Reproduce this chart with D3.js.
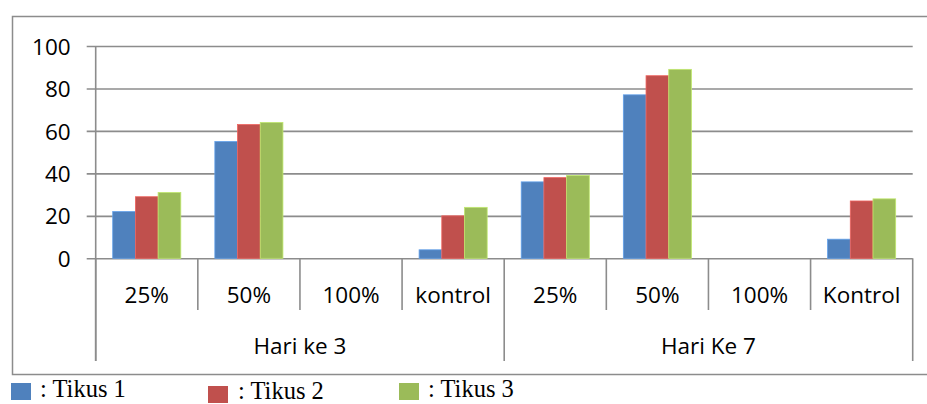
<!doctype html>
<html lang="id">
<head>
  <meta charset="utf-8">
  <title>Tikus</title>
  <script src="https://d3js.org/d3.v7.min.js"></script>
  <style>
    body { margin: 0; background: #fff; }
    svg text { font-family: "Open Sans", sans-serif; fill: #000; }
    .legend text { font-family: "Liberation Serif", "Times New Roman", serif; }
  </style>
</head>
<body>
  <div id="container"></div>
<script>
  // data
  const categories = ['25%', '50%', '100%', 'kontrol', '25%', '50%', '100%', 'Kontrol'];
  const groups = ['Hari ke 3', 'Hari Ke 7'];
  const seriesNames = [': Tikus 1', ': Tikus 2', ': Tikus 3'];
  const tikus1 = [22, 55, 0, 4, 36, 77, 0, 9];
  const tikus2 = [29, 63, 0, 20, 38, 86, 0, 27];
  const tikus3 = [31, 64, 0, 24, 39, 89, 0, 28];
  const yTicks = [0, 20, 40, 60, 80, 100];
  const colors = ['#4F81BD', '#C0504D', '#9BBB59'];

  const width = 927, height = 404;
  const plot = { left: 95.7, right: 912.7, top: 46, bottom: 258.3 };
  const gridColor = '#8c8c8c';

  const svg = d3.select('#container')
    .append('svg')
    .attr('width', width)
    .attr('height', height);

  // outer frame (right side runs off the picture)
  svg.append('rect')
    .attr('x', 12.5).attr('y', 16.5)
    .attr('width', 940).attr('height', 358)
    .attr('fill', 'none')
    .attr('stroke', gridColor)
    .attr('stroke-width', 1.5);

  const x = d3.scaleBand()
    .domain(d3.range(categories.length))
    .range([plot.left, plot.right]);

  const xs = d3.scaleBand()
    .domain(d3.range(seriesNames.length))
    .range([0, x.bandwidth()])
    .paddingInner(0)
    .paddingOuter(0.75);

  const y = d3.scaleLinear()
    .domain([0, 100])
    .range([plot.bottom, plot.top]);

  // gridlines + y labels
  const yAxis = svg.append('g')
    .attr('transform', `translate(${plot.left},0)`)
    .call(d3.axisLeft(y).tickValues(yTicks).tickSize(-(plot.right - plot.left)).tickPadding(0).tickSizeOuter(0));
  yAxis.select('.domain').remove();
  yAxis.selectAll('.tick line')
    .attr('x1', -9)
    .attr('stroke', gridColor)
    .attr('stroke-width', 1.6);
  yAxis.selectAll('.tick text')
    .attr('x', -25)
    .attr('dy', '0.36em')
    .style('font-size', '22.5px')
    .attr('fill', '#000');

  // bars
  const series = [tikus1, tikus2, tikus3];
  series.forEach((vals, s) => {
    svg.append('g')
      .selectAll('rect')
      .data(vals)
      .enter()
      .append('rect')
      .attr('x', (d, i) => x(i) + xs(s))
      .attr('y', d => y(d))
      .attr('width', xs.bandwidth())
      .attr('height', d => y(0) - y(d))
      .attr('fill', colors[s])
      .attr('stroke', d3.color(colors[s]).brighter(0.6))
      .attr('stroke-width', d => d > 0 ? 0.8 : 0);
  });

  // y axis line
  svg.append('line')
    .attr('x1', plot.left).attr('x2', plot.left)
    .attr('y1', plot.top).attr('y2', 361)
    .attr('stroke', gridColor).attr('stroke-width', 1.6);

  // category separators
  const bounds = d3.range(categories.length + 1).map(i => i < categories.length ? x(i) : plot.right);
  svg.append('g')
    .selectAll('line')
    .data(bounds)
    .enter()
    .append('line')
    .attr('x1', d => d).attr('x2', d => d)
    .attr('y1', plot.bottom)
    .attr('y2', (d, i) => i % 4 === 0 ? 361 : 310)
    .attr('stroke', gridColor)
    .attr('stroke-width', 1.6);

  // category labels
  svg.append('g')
    .selectAll('text')
    .data(categories)
    .enter()
    .append('text')
    .attr('x', (d, i) => x(i) + x.bandwidth() / 2)
    .attr('y', 302.5)
    .attr('text-anchor', 'middle')
    .style('font-size', '22.5px')
    .text(d => d);

  // group labels
  svg.append('g')
    .selectAll('text')
    .data(groups)
    .enter()
    .append('text')
    .attr('x', (d, i) => (x(i * 4) + bounds[i * 4 + 4]) / 2)
    .attr('y', 353.5)
    .attr('text-anchor', 'middle')
    .style('font-size', '22.5px')
    .text(d => d);

  // legend
  const legendPos = [
    { sx: 11, sy: 383, tx: 40, ty: 397 },
    { sx: 208, sy: 386, tx: 238, ty: 399 },
    { sx: 399, sy: 383, tx: 428, ty: 397 }
  ];
  const legend = svg.append('g').attr('class', 'legend');
  seriesNames.forEach((name, s) => {
    const p = legendPos[s];
    legend.append('rect')
      .attr('x', p.sx).attr('y', p.sy)
      .attr('width', 20).attr('height', 17)
      .attr('fill', colors[s]);
    legend.append('text')
      .attr('x', p.tx).attr('y', p.ty)
      .style('font-size', '24.5px')
      .text(name);
  });
</script>
</body>
</html>
